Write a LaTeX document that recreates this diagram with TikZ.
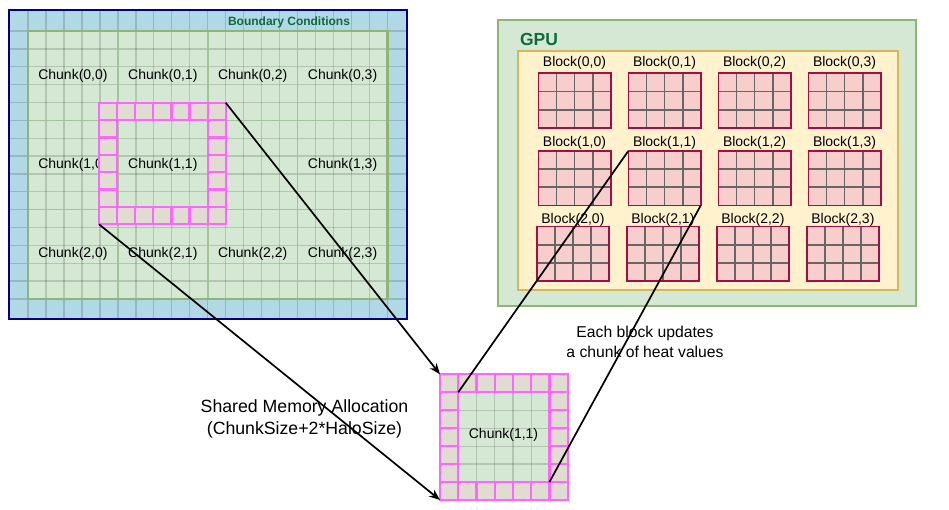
\documentclass[tikz,border=0pt]{standalone}
\usepackage{fontspec}
\setmainfont{Liberation Sans}
\usetikzlibrary{arrows.meta}
\definecolor{bluefill}{HTML}{B1D8E5}
\definecolor{navyb}{HTML}{000080}
\definecolor{greenfill}{HTML}{D5E8D4}
\definecolor{greenline}{HTML}{8DB676}
\definecolor{chunkline}{HTML}{A3C592}
\definecolor{halofill}{HTML}{E1DCD2}
\definecolor{halob}{HTML}{FF66FF}
\definecolor{pinkfill}{HTML}{F8CECC}
\definecolor{blockb}{HTML}{A50D45}
\definecolor{yellowfill}{HTML}{FFF2CC}
\definecolor{yellowb}{HTML}{D6B656}
\definecolor{darkgreen}{HTML}{0F6B3F}
\definecolor{smborder}{HTML}{9AA595}
\begin{document}
\begin{tikzpicture}[x=1pt,y=-1pt,
  font=\fontsize{14}{16}\selectfont,
  gridl/.style={draw=black, draw opacity=0.15, line width=1.3pt},
  chunkl/.style={draw=chunkline, line width=1.6pt},
  halocell/.style={draw=halob, fill=halofill, line width=2.2pt},
  cellgrid/.style={draw=black!60, line width=1.8pt},
  blockbox/.style={draw=blockb, line width=1.6pt, inner sep=0pt, outer sep=0pt},
  boxnode/.style={inner sep=0pt, outer sep=0pt},
  conn/.style={line width=1.7pt, black},
  arr/.style={conn, -{Stealth[length=11pt,width=8.5pt]}},
  lbl/.style={inner sep=0pt, text=black}]
\useasboundingbox (0,0) rectangle (949,510);

% ---------- left domain ----------
\node[boxnode, draw=navyb, fill=bluefill, line width=2pt, anchor=north west,
      minimum width=398, minimum height=309.2] (domain) at (9,9.8) {};
\fill[greenfill] (28,31) rectangle (387.5,299);
\begin{scope}
  \clip (9,9.8) rectangle (407,319);
  \foreach \i in {0,...,20} \draw[gridl] ({28+17.975*\i},9.8) -- ({28+17.975*\i},319);
  \foreach \j in {0,...,15} \draw[gridl] (9,{31+17.867*\j}) -- (407,{31+17.867*\j});
\end{scope}
\foreach \i in {1,2,3} \draw[chunkl] ({28+89.875*\i},31) -- ({28+89.875*\i},299);
\foreach \j in {1,2} \draw[chunkl] (28,{31+89.33*\j}) -- (387.5,{31+89.33*\j});
\node[boxnode, draw=greenline, line width=2.2pt, anchor=north west,
      minimum width=359.5, minimum height=268] (chunks) at (28,31) {};
\draw[navyb, line width=2.2pt] (9,9.8) rectangle (407,319);

\foreach \r/\c in {0/0,0/1,0/2,0/3,1/0,1/1,1/3,2/0,2/1,2/2,2/3}
  \node[lbl] (chunk\r\c) at ({28+89.875*(\c+0.5)},{31+89.33*(\r+0.5)}) {Chunk(\r,\c)};

\node[lbl, text=darkgreen, font=\fontsize{12}{14}\selectfont\bfseries] (bc) at (289,22.5) {Boundary Conditions};

% halo ring on the domain
\node[boxnode, anchor=north west, minimum width=126.7, minimum height=121.6] (halo) at (99,102.7) {};
\foreach \i in {0,...,6} {
  \draw[halocell] ({99+18.1*\i},102.7) rectangle ++(18.1,17.37);
  \draw[halocell] ({99+18.1*\i},{102.7+17.37*6}) rectangle ++(18.1,17.37);
}
\foreach \j in {1,...,5} {
  \draw[halocell] (99,{102.7+17.37*\j}) rectangle ++(18.1,17.37);
  \draw[halocell] ({99+18.1*6},{102.7+17.37*\j}) rectangle ++(18.1,17.37);
}

% ---------- GPU ----------
\node[boxnode, draw=greenline, fill=greenfill, line width=1.8pt, anchor=north west,
      minimum width=418.3, minimum height=286] (gpu) at (497.7,20) {};
\node[lbl, text=darkgreen, font=\fontsize{17.5}{20}\selectfont\bfseries] (gpulbl) at (539,39.5) {GPU};
\node[boxnode, draw=yellowb, fill=yellowfill, line width=1.8pt, anchor=north west,
      minimum width=380.6, minimum height=239.3] (grid) at (517.7,50.7) {};

\foreach \r/\y/\ly/\dx in {0/73.3/63.3/0, 1/151/143.3/0, 2/226.7/220/-1.6} {
  \foreach \c in {0,...,3} {
    \pgfmathsetmacro{\xo}{538.3+90*\c+\dx}
    \fill[pinkfill] (\xo,\y) rectangle ++(72.4,54.5);
    \foreach \k in {1,2,3} \draw[cellgrid] ({\xo+18.1*\k},\y) -- ++(0,54.5);
    \foreach \k in {1,2} \draw[cellgrid] (\xo,{\y+18.17*\k}) -- ++(72.4,0);
    \node[blockbox, anchor=north west, minimum width=72.4, minimum height=54.5] (blk\r\c) at (\xo,\y) {};
    \node[lbl] (blklbl\r\c) at ({\xo+36.2},\ly) {Block(\r,\c)};
  }
}

% ---------- shared memory ----------
\node[boxnode, draw=smborder, fill=greenfill, line width=1.4pt, anchor=north west,
      minimum width=127.7, minimum height=125.7] (shm) at (440,374.3) {};
\foreach \k in {1,...,4} {
  \draw[gridl] ({458.2+18.24*\k},392.3) -- ++(0,89.8);
  \draw[gridl] (458.2,{392.3+17.96*\k}) -- ++(91.2,0);
}
\node[boxnode, anchor=north west, minimum width=91.2, minimum height=89.8] (shmin) at (458.2,392.3) {};
\node[lbl] (shmlbl) at (503.5,435) {Chunk(1,1)};
\foreach \i in {0,...,6} {
  \draw[halocell] ({440+18.24*\i},374.3) rectangle ++(18.24,17.96);
  \draw[halocell] ({440+18.24*\i},{374.3+17.96*6}) rectangle ++(18.24,17.96);
}
\foreach \j in {1,...,5} {
  \draw[halocell] (440,{374.3+17.96*\j}) rectangle ++(18.24,17.96);
  \draw[halocell] ({440+18.24*6},{374.3+17.96*\j}) rectangle ++(18.24,17.96);
}

% ---------- texts ----------
\node[lbl, align=center, font=\fontsize{17.7}{22}\selectfont] (shmtext) at (304.5,419)
  {Shared Memory Allocation\\(ChunkSize+2*HaloSize)};
\node[lbl, align=center, font=\fontsize{15.7}{20.6}\selectfont] (updtext) at (645,342)
  {Each block updates\\a chunk of heat values};

% ---------- connectors ----------
\draw[arr] (halo.north east) -- (shm.north west);
\draw[arr] (halo.south west) -- (shm.south west);
\draw[conn] (blk11.north west) -- (shmin.north west);
\draw[conn] (blk11.south east) -- (shmin.south east);
\end{tikzpicture}
\end{document}
